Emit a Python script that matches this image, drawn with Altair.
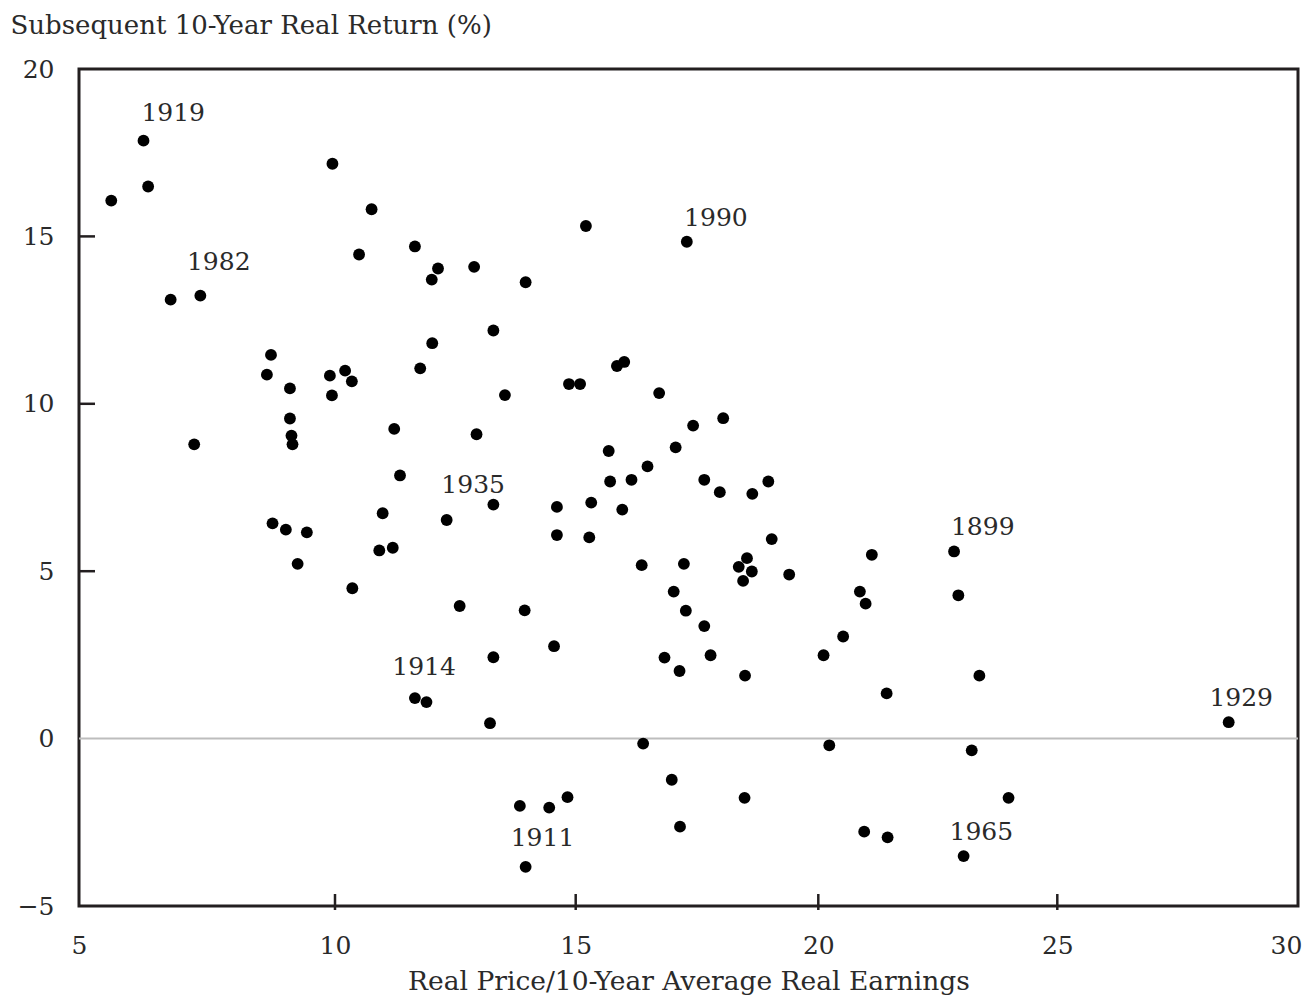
import altair as alt
import pandas as pd

# ---- data ----
pe_ratio = [
    5.63, 6.26, 6.35, 6.79, 7.37, 7.25, 9.95, 10.76, 10.50, 11.66,
    12.14, 12.01, 12.89, 13.29, 12.02, 8.75, 8.67, 9.90, 10.21, 10.35,
    11.77, 9.12, 9.94, 13.53, 9.12, 9.15, 9.17, 11.23, 12.94, 11.35,
    13.29, 12.32, 10.99, 8.78, 9.04, 9.45, 10.92, 11.20, 9.27, 10.36,
    12.59, 13.96, 15.21, 17.29, 15.85, 16.00, 14.86, 15.09, 16.72, 18.04,
    17.42, 15.68, 17.06, 16.48, 15.71, 16.15, 17.65, 17.97, 18.64, 18.97,
    14.61, 15.32, 15.96, 14.61, 15.28, 19.04, 16.36, 17.23, 18.53, 18.36,
    18.63, 18.45, 19.40, 17.02, 17.27, 17.65, 13.94, 14.55, 13.29, 16.83,
    17.78, 17.14, 18.49, 11.66, 11.90, 13.22, 16.39, 16.98, 18.48, 17.15,
    13.84, 14.45, 14.83, 13.96, 21.12, 22.84, 20.87, 20.99, 22.93, 20.52,
    20.11, 23.37, 21.43, 28.56, 20.23, 23.21, 23.98, 20.96, 21.45, 23.04,
]
real_return = [
    16.07, 17.86, 16.49, 13.11, 13.23, 8.79, 17.17, 15.81, 14.46, 14.70,
    14.04, 13.71, 14.09, 12.19, 11.81, 11.46, 10.87, 10.84, 10.99, 10.67,
    11.06, 10.46, 10.25, 10.26, 9.56, 9.05, 8.79, 9.25, 9.09, 7.86,
    6.99, 6.53, 6.73, 6.43, 6.24, 6.16, 5.62, 5.70, 5.22, 4.49,
    3.96, 13.63, 15.31, 14.84, 11.13, 11.25, 10.59, 10.59, 10.32, 9.57,
    9.35, 8.59, 8.70, 8.13, 7.68, 7.73, 7.73, 7.36, 7.31, 7.68,
    6.92, 7.05, 6.84, 6.08, 6.01, 5.96, 5.18, 5.22, 5.39, 5.13,
    4.99, 4.71, 4.90, 4.39, 3.82, 3.36, 3.83, 2.76, 2.43, 2.42,
    2.49, 2.02, 1.88, 1.21, 1.09, 0.46, -0.15, -1.23, -1.77, -2.63,
    -2.01, -2.06, -1.75, -3.83, 5.49, 5.59, 4.39, 4.03, 4.28, 3.05,
    2.49, 1.88, 1.35, 0.49, -0.20, -0.35, -1.77, -2.78, -2.95, -3.51,
]

# year annotations (text centre in data units)
label_years = ["1919", "1982", "1990", "1935", "1914", "1911", "1899", "1965", "1929"]
label_x = [6.84, 7.73, 17.89, 12.87, 11.85, 14.31, 23.44, 23.41, 28.82]
label_y = [18.70, 14.23, 15.54, 7.56, 2.13, -2.96, 6.33, -2.80, 1.20]

x_tick_values = [5, 10, 15, 20, 25, 30]
y_tick_values = [-5, 0, 5, 10, 15, 20]
x_inner_ticks = [10, 15, 20, 25]
y_inner_ticks = [5, 10, 15]
zero_line = [0]

# ---- chart ----
W, H = 1219, 837
FONT = "DejaVu Serif"
INK = "#231f20"
TXT = "#2a2a2a"

# the printed axis is slightly uneven (5-10 is wider than the other steps)
x_scale = alt.Scale(domain=x_tick_values, range=[0, 256, 496.7, 739.3, 978.3, W],
                    nice=False, zero=False)
y_scale = alt.Scale(domain=[-5, 20], nice=False, zero=False)

x_axis = alt.Axis(
    values=x_tick_values, ticks=False, tickSize=0, domain=False, grid=False,
    labelFont=FONT, labelFontSize=25, labelColor=TXT, labelPadding=27,
    labelFlush=False, labelOverlap=False,
    labelOffset=alt.condition("datum.value == 30", alt.value(-12), alt.value(0)),
    title="Real Price/10-Year Average Real Earnings",
    titleFont=FONT, titleFontSize=26.5, titleFontWeight="normal", titleColor=TXT,
    titleBaseline="alphabetic", titleY=83,
)
y_axis = alt.Axis(
    values=y_tick_values, ticks=False, tickSize=0, domain=False, grid=False,
    labelFont=FONT, labelFontSize=25, labelColor=TXT, labelPadding=25,
    labelOverlap=False,
    title="Subsequent 10-Year Real Return (%)",
    titleFont=FONT, titleFontSize=26, titleFontWeight="normal", titleColor=TXT,
    titleAngle=0, titleAlign="left", titleBaseline="alphabetic",
    titleX=-69, titleY=-36,
)

points_df = pd.DataFrame({"x": pe_ratio, "y": real_return})
labels_df = pd.DataFrame({"x": label_x, "y": label_y, "year": label_years})
zero_df = pd.DataFrame({"y": zero_line})
xt_df = pd.DataFrame({"x": x_inner_ticks})
yt_df = pd.DataFrame({"y": y_inner_ticks})

zero_rule = alt.Chart(zero_df).mark_rule(color="#bdbdbd", strokeWidth=2).encode(
    y=alt.Y("y:Q", scale=y_scale, axis=y_axis)
)

x_ticks = alt.Chart(xt_df).mark_rule(color=INK, strokeWidth=2.5).encode(
    x=alt.X("x:Q", scale=x_scale, axis=x_axis),
    y=alt.value(H - 12),
    y2=alt.value(H + 4),
)

y_ticks = alt.Chart(yt_df).mark_rule(color=INK, strokeWidth=2.5).encode(
    y=alt.Y("y:Q", scale=y_scale, axis=y_axis),
    x=alt.value(0),
    x2=alt.value(16),
)

points = alt.Chart(points_df).mark_circle(size=140, color="black", opacity=1).encode(
    x=alt.X("x:Q", scale=x_scale, axis=x_axis),
    y=alt.Y("y:Q", scale=y_scale, axis=y_axis),
)

labels = alt.Chart(labels_df).mark_text(
    font=FONT, fontSize=25, color=TXT, align="center", baseline="middle"
).encode(
    x=alt.X("x:Q", scale=x_scale, axis=x_axis),
    y=alt.Y("y:Q", scale=y_scale, axis=y_axis),
    text="year:N",
)

chart = (
    alt.layer(zero_rule, x_ticks, y_ticks, points, labels)
    .properties(
        width=W,
        height=H,
        autosize=alt.AutoSizeParams(type="none"),
        padding={"left": 71, "top": 61, "right": 5, "bottom": 90},
        background="white",
    )
    .configure_view(stroke=INK, strokeWidth=3)
)

chart.save("out.html", embed_options={"renderer": "svg", "actions": False})
